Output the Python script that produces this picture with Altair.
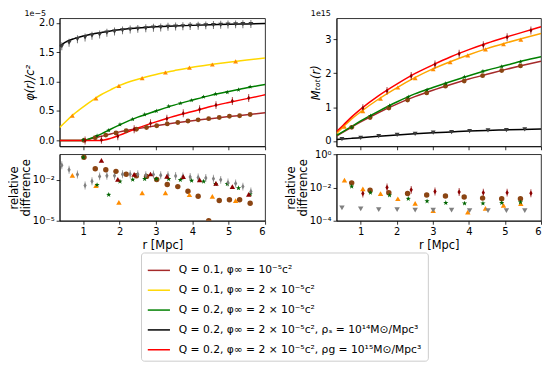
import altair as alt
import pandas as pd

FONT = "DejaVu Sans"

LABELS = [
    "Q = 0.1, φ∞ = 10⁻⁵c²",
    "Q = 0.1, φ∞ = 2 × 10⁻⁵c²",
    "Q = 0.2, φ∞ = 2 × 10⁻⁵c²",
    "Q = 0.2, φ∞ = 2 × 10⁻⁵c², ρₛ = 10¹⁴M⊙/Mpc³",
    "Q = 0.2, φ∞ = 2 × 10⁻⁵c², ρg = 10¹⁵M⊙/Mpc³",
]
KEYS = ["s1", "s2", "s3", "s4", "s5"]

# ---------------- φ(r)/c² (units of 1e-5) : model curves ----------------
PHI_LINE_S1_X = [0.35, 1.0, 1.25, 1.5, 1.75, 2.0, 2.5, 3.0, 3.5, 4.0, 4.5, 5.0, 5.5, 6.0]
PHI_LINE_S1_Y = [0.0, 0.0, 0.035, 0.07, 0.11, 0.145, 0.20, 0.25, 0.295, 0.335, 0.37, 0.405, 0.435, 0.47]
PHI_LINE_S2_X = [0.35, 0.5, 0.75, 1.0, 1.25, 1.5, 1.75, 2.0, 2.5, 3.0, 3.5, 4.0, 4.5, 5.0, 5.5, 6.0]
PHI_LINE_S2_Y = [0.22, 0.31, 0.45, 0.57, 0.68, 0.78, 0.86, 0.935, 1.04, 1.12, 1.185, 1.245, 1.29, 1.33, 1.365, 1.40]
PHI_LINE_S3_X = [0.35, 0.95, 1.25, 1.5, 1.75, 2.0, 2.5, 3.0, 3.5, 4.0, 4.5, 5.0, 5.5, 6.0]
PHI_LINE_S3_Y = [0.0, 0.0, 0.045, 0.11, 0.19, 0.265, 0.395, 0.50, 0.60, 0.685, 0.765, 0.83, 0.895, 0.95]
PHI_LINE_S4_X = [0.35, 0.5, 0.75, 1.0, 1.25, 1.5, 1.75, 2.0, 2.5, 3.0, 3.5, 4.0, 4.5, 5.0, 5.5, 6.0]
PHI_LINE_S4_Y = [1.60, 1.665, 1.73, 1.775, 1.81, 1.835, 1.86, 1.88, 1.91, 1.93, 1.945, 1.955, 1.965, 1.975, 1.98, 1.985]
PHI_LINE_S5_X = [0.35, 1.45, 1.75, 2.0, 2.25, 2.5, 3.0, 3.5, 4.0, 4.5, 5.0, 5.5, 6.0]
PHI_LINE_S5_Y = [0.0, 0.0, 0.035, 0.09, 0.15, 0.21, 0.315, 0.41, 0.49, 0.575, 0.645, 0.71, 0.775]

# ---------------- φ(r)/c² : simulated points ----------------
PHI_PTS_S1_X = [1.02, 1.33, 1.62, 1.9, 2.18, 2.46, 2.74, 3.02, 3.31, 3.6, 3.88, 4.16, 4.45, 4.74, 5.02, 5.3, 5.59]
PHI_PTS_S1_Y = [0.0, 0.045, 0.09, 0.125, 0.165, 0.19, 0.22, 0.25, 0.28, 0.305, 0.33, 0.35, 0.37, 0.39, 0.41, 0.42, 0.44]
PHI_PTS_S2_X = [0.70, 1.35, 1.98, 2.62, 3.26, 3.92, 4.55, 5.19]
PHI_PTS_S2_Y = [0.42, 0.715, 0.927, 1.057, 1.154, 1.236, 1.29, 1.344]
PHI_PTS_S3_X = [1.0, 1.38, 1.70, 2.01, 2.36, 2.69, 3.01, 3.35, 3.67, 3.98, 4.31, 4.64, 4.96, 5.27, 5.59]
PHI_PTS_S3_Y = [0.01, 0.08, 0.17, 0.27, 0.36, 0.44, 0.50, 0.58, 0.63, 0.68, 0.74, 0.79, 0.82, 0.86, 0.91]
PHI_PTS_S4_X = [0.41, 0.61, 0.84, 1.05, 1.24, 1.45, 1.65, 1.86, 2.08, 2.29, 2.50, 2.72, 2.93,
                3.13, 3.33, 3.54, 3.74, 3.94, 4.16, 4.37, 4.58, 4.78, 4.98, 5.19, 5.39, 5.61]
PHI_PTS_S4_Y = [1.60, 1.66, 1.72, 1.75, 1.78, 1.80, 1.83, 1.85, 1.87, 1.885, 1.895, 1.905, 1.915,
                1.92, 1.93, 1.935, 1.94, 1.945, 1.95, 1.955, 1.96, 1.965, 1.97, 1.972, 1.975, 1.978]
PHI_PTS_S5_X = [1.05, 1.5, 1.95, 2.4, 2.85, 3.3, 3.75, 4.2, 4.65, 5.1, 5.55]
PHI_PTS_S5_Y = [0.0, 0.01, 0.07, 0.19, 0.29, 0.37, 0.46, 0.53, 0.60, 0.67, 0.72]

# ---------------- φ relative difference ----------------
RES_PHI_S1_X = PHI_PTS_S1_X
RES_PHI_S1_Y = [0.45, 0.065, 0.055, 0.042, 0.026, 0.020, 0.018, 0.0105, 4.5e-3, 3.2e-3, 1.45e-3,
                6.2e-4, 1.0e-5, 3.1e-4, 3.5e-4, 3.5e-4, 1.9e-4]
RES_PHI_S2_X = PHI_PTS_S2_X
RES_PHI_S2_Y = [2.1e-2, 3.8e-3, 2.2e-4, 1.1e-3, 1.1e-3, 8.1e-4, 6.2e-4, 3.0e-4]
RES_PHI_S3_X = PHI_PTS_S3_X
RES_PHI_S3_Y = [0.45, 4.3e-3, 8.1e-4, 7.6e-3, 1.05e-2, 1.17e-2, 1.17e-2, 1.17e-2, 1.0e-2, 8.9e-3,
                7.6e-3, 5.0e-3, 5.0e-3, 2.5e-3, 9.1e-4]
RES_PHI_S4_X = PHI_PTS_S4_X
RES_PHI_S4_Y = [0.117, 0.055, 0.025, 3.9e-3, 7.9e-3, 1.8e-2, 2.0e-2, 2.0e-2, 2.6e-2, 2.6e-2, 2.6e-2,
                2.2e-2, 2.5e-2, 2.2e-2, 2.2e-2, 1.9e-2, 1.8e-2, 1.6e-2, 1.5e-2, 1.35e-2, 1.2e-2,
                1.0e-2, 6.3e-3, 5.4e-3, 3.2e-3, 1.4e-3]
RES_PHI_S5_X = [1.5, 1.95, 2.4, 2.85, 3.3, 3.75, 4.2, 4.65, 5.1, 5.55]
RES_PHI_S5_Y = [0.27, 1.1e-2, 2.5e-2, 2.7e-2, 1.8e-2, 1.7e-2, 1.0e-2, 5.6e-3, 3.2e-3, 8.5e-4]

# ---------------- M_tot(r) (units of 1e15) : model curves ----------------
M_LINE_X = [0.33, 0.5, 0.75, 1.0, 1.5, 2.0, 2.5, 3.0, 3.5, 4.0, 4.5, 5.0, 5.5, 6.0]
M_LINE_S1_Y = [0.14, 0.25, 0.41, 0.56, 0.84, 1.09, 1.31, 1.50, 1.67, 1.83, 1.97, 2.11, 2.24, 2.36]
M_LINE_S2_Y = [0.22, 0.40, 0.65, 0.86, 1.24, 1.57, 1.87, 2.13, 2.35, 2.55, 2.73, 2.89, 3.04, 3.18]
M_LINE_S3_Y = [0.16, 0.27, 0.43, 0.59, 0.88, 1.15, 1.39, 1.58, 1.76, 1.93, 2.09, 2.23, 2.37, 2.49]
M_LINE_S4_Y = [0.04, 0.055, 0.075, 0.095, 0.14, 0.175, 0.21, 0.24, 0.265, 0.29, 0.31, 0.325, 0.34, 0.355]
M_LINE_S5_Y = [0.28, 0.45, 0.71, 0.94, 1.34, 1.68, 1.99, 2.25, 2.49, 2.70, 2.89, 3.06, 3.22, 3.38]

# ---------------- M_tot(r) : simulated points ----------------
M_PTS_S1_X = [0.75, 1.26, 1.78, 2.30, 2.83, 3.35, 3.87, 4.38, 4.91, 5.43]
M_PTS_S1_Y = [0.40, 0.69, 0.97, 1.21, 1.42, 1.62, 1.77, 1.93, 2.08, 2.22]
M_PTS_S2_X = [0.55, 1.06, 1.55, 2.03, 2.51, 3.01, 3.48, 3.97, 4.46, 4.96, 5.44]
M_PTS_S2_Y = [0.42, 0.88, 1.25, 1.58, 1.86, 2.12, 2.33, 2.53, 2.71, 2.86, 3.0]
M_PTS_S3_X = [0.75, 1.27, 1.80, 2.32, 2.84, 3.36, 3.88, 4.39, 4.91, 5.43]
M_PTS_S3_Y = [0.40, 0.74, 1.04, 1.30, 1.51, 1.70, 1.89, 2.06, 2.20, 2.34]
M_PTS_S4_X = [0.48, 1.0, 1.5, 2.01, 2.51, 3.01, 3.52, 4.02, 4.53, 5.04, 5.55]
M_PTS_S4_Y = [0.05, 0.09, 0.14, 0.18, 0.21, 0.245, 0.26, 0.29, 0.31, 0.32, 0.34]
M_PTS_S5_X = [1.06, 1.73, 2.4, 3.06, 3.73, 4.4, 5.06, 5.72]
M_PTS_S5_Y = [0.97, 1.48, 1.92, 2.26, 2.58, 2.83, 3.07, 3.27]

# ---------------- M relative difference ----------------
RES_M_S1_X = M_PTS_S1_X
RES_M_S1_Y = [1.9e-2, 6.9e-3, 4.9e-3, 4.3e-3, 3.5e-3, 3.1e-3, 2.7e-3, 2.3e-3, 2.1e-3, 2.1e-3]
RES_M_S2_X = [0.55, 1.06, 1.55, 2.03, 2.51, 3.01, 3.97, 4.46, 4.96, 5.44]
RES_M_S2_Y = [2.8e-2, 8.3e-3, 4.3e-3, 2.1e-3, 1.1e-3, 4.0e-4, 3.3e-4, 5.6e-4, 8.3e-4, 1.07e-3]
RES_M_S3_X = M_PTS_S3_X
RES_M_S3_Y = [1.15e-2, 4.9e-3, 3.4e-3, 2.1e-3, 1.5e-3, 1.2e-3, 1.1e-3, 1.1e-3, 1.2e-3, 1.3e-3]
RES_M_S4_X = M_PTS_S4_X
RES_M_S4_Y = [6.0e-4, 5.1e-4, 4.7e-4, 4.7e-4, 4.3e-4, 4.3e-4, 4.3e-4, 4.1e-4, 4.1e-4, 4.1e-4, 4.1e-4]
RES_M_S5_X = M_PTS_S5_X
RES_M_S5_Y = [4.3e-3, 1.0e-2, 7.2e-3, 5.8e-3, 5.4e-3, 4.9e-3, 4.9e-3, 4.5e-3]

PHI_TICKS = [0.0, 0.5, 1.0, 1.5, 2.0]
M_TICKS = [0, 1, 2, 3]
R_TICKS = [1, 2, 3, 4, 5, 6]

# ---------------- styles ----------------
LINE_COLORS_PHI = ["#a52a2a", "#ffd700", "#008000", "#000000", "#ff0000"]
LINE_COLORS_M = ["#a52a2a", "#ffa500", "#008000", "#000000", "#ff0000"]
MARK_COLORS = ["#8b4513", "#ff8c00", "#006400", "#3a3a3a", "#8b0000"]
MARK_COLORS_RES = ["#8b4513", "#ff8c00", "#006400", "#808080", "#8b0000"]
STAR = ("M0,-1L0.235,-0.324L0.951,-0.309L0.38,0.124L0.588,0.809L0,0.4L-0.588,0.809"
        "L-0.38,0.124L-0.951,-0.309L-0.235,-0.324Z")
THIN_D = "M0,-1L0.6,0L0,1L-0.6,0Z"
SHAPES_TOP = ["circle", "triangle-up", STAR, "triangle-down", THIN_D]
SHAPES_RES_PHI = ["circle", "triangle-up", STAR, THIN_D, "triangle-up"]
SHAPES_RES_M = ["circle", "triangle-up", STAR, "triangle-down", THIN_D]


def frame(pairs, names, key):
    rows = []
    for lab, (xs, ys) in zip(names, pairs):
        for xv, yv in zip(xs, ys):
            rows.append({key: lab, "x": xv, "y": yv})
    return pd.DataFrame(rows)


phi_lines = frame([(PHI_LINE_S1_X, PHI_LINE_S1_Y), (PHI_LINE_S2_X, PHI_LINE_S2_Y),
                   (PHI_LINE_S3_X, PHI_LINE_S3_Y), (PHI_LINE_S4_X, PHI_LINE_S4_Y),
                   (PHI_LINE_S5_X, PHI_LINE_S5_Y)], LABELS, "series")
phi_pts = frame([(PHI_PTS_S1_X, PHI_PTS_S1_Y), (PHI_PTS_S2_X, PHI_PTS_S2_Y),
                 (PHI_PTS_S3_X, PHI_PTS_S3_Y), (PHI_PTS_S4_X, PHI_PTS_S4_Y),
                 (PHI_PTS_S5_X, PHI_PTS_S5_Y)], KEYS, "grp")
phi_res = frame([(RES_PHI_S1_X, RES_PHI_S1_Y), (RES_PHI_S2_X, RES_PHI_S2_Y),
                 (RES_PHI_S3_X, RES_PHI_S3_Y), (RES_PHI_S4_X, RES_PHI_S4_Y),
                 (RES_PHI_S5_X, RES_PHI_S5_Y)], KEYS, "grp")
m_lines = frame([(M_LINE_X, M_LINE_S1_Y), (M_LINE_X, M_LINE_S2_Y), (M_LINE_X, M_LINE_S3_Y),
                 (M_LINE_X, M_LINE_S4_Y), (M_LINE_X, M_LINE_S5_Y)], LABELS, "series")
m_pts = frame([(M_PTS_S1_X, M_PTS_S1_Y), (M_PTS_S2_X, M_PTS_S2_Y), (M_PTS_S3_X, M_PTS_S3_Y),
               (M_PTS_S4_X, M_PTS_S4_Y), (M_PTS_S5_X, M_PTS_S5_Y)], KEYS, "grp")
m_res = frame([(RES_M_S1_X, RES_M_S1_Y), (RES_M_S2_X, RES_M_S2_Y), (RES_M_S3_X, RES_M_S3_Y),
               (RES_M_S4_X, RES_M_S4_Y), (RES_M_S5_X, RES_M_S5_Y)], KEYS, "grp")

LOG_LABELS = ("datum.value < 5e-5 ? '10⁻⁵' : datum.value < 5e-4 ? '10⁻⁴' : "
              "datum.value < 0.5 ? '10⁻²' : '10⁰'")


def panel(pts, err_keys, shapes, fills, xdom, ydom, ylog, yaxis, xaxis, w, h, msize,
          lines=None, line_colors=None, legend=None, offset_text=None):
    x = alt.X("x:Q", scale=alt.Scale(domain=xdom, nice=False, zero=False), axis=xaxis)
    ysc = alt.Scale(domain=ydom, type="log", nice=False) if ylog else \
        alt.Scale(domain=ydom, nice=False, zero=False)
    y = alt.Y("y:Q", scale=ysc, axis=yaxis)
    fill = alt.Fill("grp:N", scale=alt.Scale(domain=KEYS, range=fills), legend=None)
    shape = alt.Shape("grp:N", scale=alt.Scale(domain=KEYS, range=shapes), legend=None)
    layers = []
    if lines is not None:
        layers.append(
            alt.Chart(lines).mark_line(strokeWidth=1.5, interpolate="monotone", clip=True).encode(
                x=x, y=y,
                color=alt.Color("series:N", scale=alt.Scale(domain=LABELS, range=line_colors),
                                legend=legend)))
    err = pts[pts["grp"].isin(err_keys)]
    layers.append(alt.Chart(err).mark_tick(orient="vertical", size=8, thickness=1, clip=True)
                  .encode(x=x, y=y, fill=fill))
    layers.append(alt.Chart(pts).mark_point(filled=True, size=msize, strokeWidth=0, opacity=1, clip=True)
                  .encode(x=x, y=y, fill=fill, shape=shape))
    ch = alt.layer(*layers).properties(width=w, height=h)
    if offset_text:
        ch = ch.properties(title=alt.TitleParams(offset_text, anchor="start", fontSize=8,
                                                 fontWeight="normal", font=FONT, offset=0,
                                                 color="black"))
    return ch


TOP_H = 129
BOT_H = 67
W_L = 207
W_R = 206

legend = alt.Legend(title=None, orient="none", legendX=82, legendY=236, direction="vertical",
                    symbolType="stroke", symbolSize=500, symbolStrokeWidth=1.5,
                    labelFont=FONT, labelFontSize=10.8, labelLimit=500, labelOffset=8,
                    labelColor="black", rowPadding=3.0, padding=6, strokeColor="#cccccc",
                    cornerRadius=3, fillColor="white")

top_x_axis = alt.Axis(values=R_TICKS, labels=False, title=None)
bot_x_axis = alt.Axis(values=R_TICKS, format="d", title="r [Mpc]")
RES_TITLE = ["relative", "difference"]

tl = panel(phi_pts, ["s4", "s5"], SHAPES_TOP, MARK_COLORS, [0.35, 6], [-0.1, 2.076], False,
           alt.Axis(values=PHI_TICKS, format=".1f", title="φ(r)/c²", titleFontStyle="italic"),
           top_x_axis, W_L, TOP_H, 24, lines=phi_lines, line_colors=LINE_COLORS_PHI, legend=legend,
           offset_text="1e−5")
tr = panel(m_pts, ["s5"], SHAPES_TOP, MARK_COLORS, [0.33, 6], [-0.16, 3.63], False,
           alt.Axis(values=M_TICKS, format="d", title="Mₜₒₜ(r)", titleFontStyle="italic"),
           top_x_axis, W_R, TOP_H, 24, lines=m_lines, line_colors=LINE_COLORS_M, legend=None,
           offset_text="1e15")
bl = panel(phi_res, ["s4"], SHAPES_RES_PHI, MARK_COLORS_RES, [0.35, 6], [1e-5, 0.76], True,
           alt.Axis(values=[1e-5, 1e-2], labelExpr=LOG_LABELS, title=RES_TITLE,
                    titleLineHeight=12, titlePadding=1),
           bot_x_axis, W_L, BOT_H, 30)
br = panel(m_res, ["s5"], SHAPES_RES_M, MARK_COLORS_RES, [0.33, 6], [1e-4, 1.0], True,
           alt.Axis(values=[1e-4, 1e-2, 1.0], labelExpr=LOG_LABELS, title=RES_TITLE,
                    titleLineHeight=12, titlePadding=1),
           bot_x_axis, W_R, BOT_H, 30)

chart = alt.concat(tl, tr, bl, br, columns=2, spacing={"row": 8, "column": 72}).resolve_scale(
    color="independent", fill="independent", shape="independent"
).properties(
    bounds="flush", padding={"left": 0, "top": 0, "right": 0, "bottom": 0}
).configure(font=FONT).configure_axis(
    labelFont=FONT, labelFontSize=10, labelColor="black", titleFont=FONT, titleFontSize=11.5,
    titleColor="black", titleFontWeight="normal", tickColor="black", domainColor="black",
    tickSize=3.5, grid=False, labelPadding=2, titlePadding=3, domainWidth=0.8, tickWidth=0.8
).configure_view(stroke="black", strokeWidth=0.8)

chart.save("out.html", embed_options={"renderer": "svg", "actions": False})
